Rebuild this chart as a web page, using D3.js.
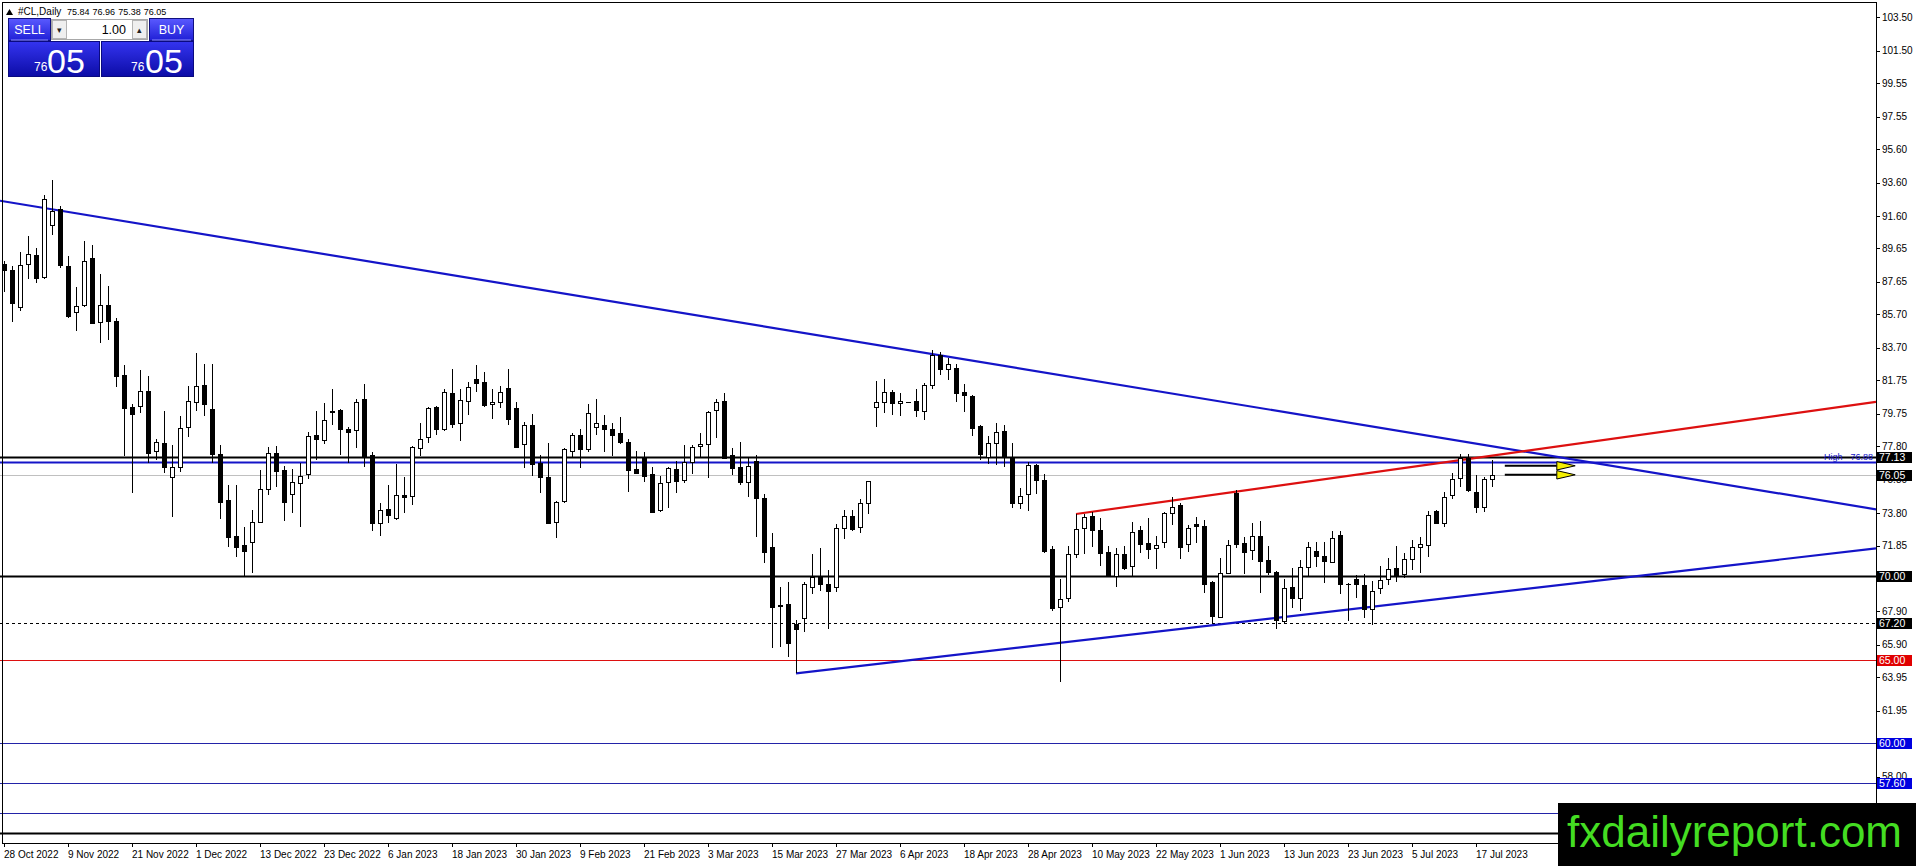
<!DOCTYPE html>
<html>
<head>
<meta charset="utf-8">
<script src="https://cdn.jsdelivr.net/npm/d3@7"></script>
<style>
  html, body { margin: 0; padding: 0; background: #fff; }
  svg { display: block; font-family: "Liberation Sans", Arial, sans-serif; }
</style>
</head>
<body>
<svg id="chart" width="1916" height="866"></svg>
<script>
// #CL daily bars, 28 Oct 2022 .. 19 Jul 2023 (one value per bar)
const opens = [
  88.72, 88.36, 86.12, 88.70, 89.24, 87.96, 91.04, 91.99, 88.58, 85.86,
  86.26, 89.06, 85.26, 86.24, 85.30, 82.07, 80.15, 80.23, 81.11, 77.50,
  77.98, 75.94, 76.54, 78.97, 80.43, 81.45, 80.03, 77.34, 74.58, 72.42,
  71.88, 72.06, 73.26, 75.26, 77.37, 76.38, 74.92, 75.58, 76.12, 78.47,
  78.15, 79.85, 79.97, 78.83, 78.75, 80.61, 77.27, 73.22, 74.02, 73.48,
  74.88, 74.80, 77.67, 78.33, 80.13, 78.85, 80.99, 79.17, 80.53, 81.81,
  81.63, 80.31, 80.47, 81.27, 80.07, 77.92, 79.05, 76.78, 75.96, 73.24,
  74.54, 77.50, 78.46, 77.66, 78.93, 79.05, 78.81, 78.60, 78.06, 76.46,
  77.10, 76.12, 73.96, 75.64, 76.42, 75.76, 76.84, 77.80, 77.92, 79.95,
  80.49, 77.30, 76.56, 75.64, 76.90, 74.68, 71.74, 68.20, 68.33, 67.15,
  67.49, 69.39, 70.02, 69.53, 69.39, 72.88, 73.60, 72.98, 74.38, 80.13,
  80.45, 81.03, 80.39, 80.45, 80.51, 79.89, 81.45, 83.27, 82.41, 82.47,
  81.05, 80.81, 79.01, 77.17, 77.97, 78.71, 77.07, 74.38, 74.92, 76.66,
  75.78, 71.64, 68.15, 68.69, 71.34, 72.88, 73.64, 72.78, 71.44, 70.04,
  71.34, 70.60, 72.78, 71.98, 71.68, 72.08, 73.78, 74.28, 71.92, 73.14,
  73.02, 69.66, 67.59, 70.22, 75.02, 71.98, 71.58, 72.44, 70.96, 70.28,
  67.33, 69.36, 68.69, 70.54, 71.50, 71.20, 70.88, 72.46, 69.52, 69.82,
  69.46, 68.03, 69.28, 69.82, 70.48, 70.12, 71.04, 71.78, 71.86, 73.90,
  73.18, 74.86, 75.88, 77.07, 75.04, 74.14, 75.84
];
const highs = [
  88.90, 88.60, 89.42, 90.38, 89.68, 92.85, 93.75, 92.19, 89.18, 87.34,
  90.10, 89.84, 88.12, 87.40, 85.46, 82.65, 80.33, 82.37, 82.01, 78.22,
  79.91, 77.88, 79.61, 81.41, 83.39, 82.73, 82.73, 77.88, 75.46, 75.46,
  72.98, 73.98, 76.38, 77.77, 77.81, 76.62, 76.42, 76.78, 78.63, 79.91,
  80.37, 81.21, 80.05, 78.95, 80.61, 81.53, 77.45, 74.42, 75.48, 76.74,
  75.98, 77.82, 79.19, 80.17, 80.20, 81.25, 82.41, 81.23, 81.65, 82.65,
  82.25, 81.21, 81.40, 82.40, 80.47, 79.23, 79.71, 77.28, 77.98, 74.50,
  77.70, 78.58, 78.82, 80.33, 80.61, 79.65, 79.17, 79.53, 78.26, 77.52,
  77.46, 76.54, 76.02, 76.58, 76.94, 77.86, 77.86, 78.58, 79.90, 80.63,
  80.97, 77.72, 78.08, 77.10, 77.27, 74.94, 72.58, 69.38, 69.65, 67.39,
  69.65, 71.32, 71.68, 70.38, 73.12, 73.98, 73.98, 74.62, 75.74, 81.71,
  81.81, 81.17, 81.01, 80.45, 81.21, 81.57, 83.57, 83.47, 83.07, 82.71,
  81.53, 80.87, 79.10, 78.41, 79.17, 79.07, 77.97, 75.28, 76.88, 76.72,
  76.14, 71.84, 69.85, 71.84, 73.74, 73.74, 73.84, 73.48, 71.84, 71.68,
  71.84, 73.26, 73.02, 73.48, 72.42, 73.85, 74.74, 74.38, 73.08, 73.58,
  73.38, 69.72, 71.08, 72.18, 75.18, 72.38, 73.18, 73.32, 71.82, 70.35,
  69.82, 70.48, 70.98, 72.08, 72.08, 72.08, 72.74, 72.74, 69.62, 70.08,
  70.12, 69.72, 70.62, 71.08, 71.82, 71.38, 72.18, 72.34, 73.92, 73.98,
  75.04, 76.18, 77.33, 77.33, 76.08, 75.94, 76.96
];
const lows = [
  87.06, 85.26, 85.92, 87.80, 87.60, 87.84, 90.46, 88.50, 85.50, 84.72,
  86.14, 85.14, 84.01, 84.17, 81.37, 77.19, 75.02, 79.81, 76.82, 76.98,
  76.22, 73.58, 76.28, 78.37, 79.93, 79.63, 76.78, 73.42, 71.74, 71.14,
  70.03, 70.22, 73.22, 74.88, 75.34, 73.34, 73.82, 72.98, 75.82, 76.98,
  77.93, 79.07, 77.27, 76.82, 77.72, 76.58, 72.74, 72.42, 73.22, 73.40,
  73.82, 74.28, 77.22, 77.97, 78.49, 78.73, 78.87, 78.13, 79.65, 81.07,
  80.17, 79.45, 80.10, 79.07, 77.68, 76.52, 76.04, 74.98, 73.12, 72.28,
  74.38, 77.18, 76.52, 77.48, 78.46, 77.48, 77.22, 77.92, 75.08, 76.12,
  75.68, 73.80, 73.84, 74.12, 74.98, 75.58, 76.12, 77.18, 75.88, 78.32,
  77.08, 76.08, 75.46, 74.78, 72.34, 70.78, 65.69, 65.75, 65.19, 64.19,
  66.69, 68.93, 69.15, 66.85, 69.09, 72.22, 72.74, 72.62, 73.74, 78.97,
  79.77, 79.67, 79.63, 80.45, 79.57, 79.37, 81.25, 82.07, 81.77, 80.47,
  79.87, 78.41, 76.97, 76.71, 76.68, 76.58, 74.08, 74.02, 73.94, 74.92,
  71.42, 67.95, 63.69, 68.49, 71.08, 71.34, 71.78, 70.64, 69.94, 69.39,
  70.38, 70.04, 71.42, 71.02, 70.44, 71.72, 73.08, 71.02, 71.48, 71.98,
  69.03, 67.19, 67.55, 70.12, 71.72, 70.14, 70.98, 69.03, 70.08, 66.83,
  67.15, 68.09, 67.95, 69.94, 70.54, 69.58, 70.82, 68.95, 67.35, 68.73,
  67.49, 67.09, 68.95, 69.48, 69.68, 69.88, 70.38, 70.22, 71.18, 73.14,
  72.98, 74.62, 75.34, 75.08, 73.82, 73.88, 75.38
];
const closes = [
  88.36, 86.40, 88.64, 89.34, 87.90, 92.59, 91.87, 88.66, 85.62, 86.18,
  88.90, 85.18, 86.24, 85.32, 82.03, 80.11, 79.75, 81.11, 77.42, 78.04,
  76.54, 76.54, 78.89, 80.49, 81.41, 80.31, 77.34, 74.44, 72.38, 71.78,
  71.54, 73.28, 75.22, 77.37, 76.34, 74.48, 75.64, 76.02, 78.39, 78.21,
  79.35, 79.91, 78.85, 78.67, 80.43, 77.17, 73.22, 73.96, 73.70, 74.86,
  74.74, 77.74, 78.25, 80.07, 78.85, 81.03, 79.15, 80.55, 81.33, 81.61,
  80.25, 80.45, 81.07, 79.41, 77.78, 79.05, 76.72, 75.98, 73.22, 74.44,
  77.62, 78.46, 77.66, 79.77, 79.17, 78.81, 78.50, 78.04, 76.36, 76.22,
  76.04, 73.84, 75.62, 76.48, 75.74, 76.84, 77.74, 77.92, 79.87, 80.47,
  77.12, 76.48, 75.64, 76.64, 74.72, 71.48, 68.19, 68.26, 65.99, 66.83,
  69.53, 69.98, 69.53, 69.15, 72.88, 73.60, 72.82, 74.38, 75.70, 80.43,
  81.03, 80.37, 80.49, 80.45, 79.97, 81.45, 83.27, 82.41, 82.71, 80.97,
  80.85, 78.91, 77.31, 77.97, 78.67, 77.17, 74.38, 74.80, 76.66, 75.78,
  71.54, 68.13, 68.63, 71.32, 72.82, 73.54, 72.78, 71.42, 70.04, 71.32,
  70.52, 72.64, 71.92, 71.66, 71.86, 73.78, 74.18, 71.78, 72.90, 73.02,
  69.53, 67.61, 70.18, 71.86, 71.92, 71.44, 72.44, 70.94, 70.28, 67.39,
  69.28, 68.69, 70.54, 71.78, 71.24, 70.94, 72.32, 69.52, 69.56, 69.52,
  68.05, 69.15, 69.78, 70.42, 70.08, 71.04, 71.78, 71.92, 73.66, 73.22,
  74.78, 75.86, 77.07, 75.18, 74.14, 75.84, 76.05
];

// time scale labels, one every 8 bars starting with bar 0
const dateLabels = [
  '28 Oct 2022', '9 Nov 2022', '21 Nov 2022', '1 Dec 2022', '13 Dec 2022',
  '23 Dec 2022', '6 Jan 2023', '18 Jan 2023', '30 Jan 2023', '9 Feb 2023',
  '21 Feb 2023', '3 Mar 2023', '15 Mar 2023', '27 Mar 2023', '6 Apr 2023',
  '18 Apr 2023', '28 Apr 2023', '10 May 2023', '22 May 2023', '1 Jun 2023',
  '13 Jun 2023', '23 Jun 2023', '5 Jul 2023', '17 Jul 2023'
];
const labelEvery = 8;

// price scale labels (those fully hidden under level tags left out)
const priceTicks = [
  103.50, 101.50, 99.55, 97.55, 95.60, 93.60, 91.60, 89.65, 87.65, 85.70,
  83.70, 81.75, 79.75, 77.80, 75.80, 73.80, 71.85, 67.90, 65.90,
  63.95, 61.95, 58.00
];

// horizontal levels drawn on the chart
const levelPrices = [77.13, 76.88, 76.05, 70.00, 67.20, 65.00, 60.00, 57.60, 55.80, 54.60];
const levelTags   = ['77.13', null, '76.05', '70.00', '67.20', '65.00', '60.00', '57.60', null, null];

// trend lines as [bar, price] pairs
const downTrend    = [[-0.5, 92.51], [234, 74.02]];
const channelTop   = [[134, 73.74], [234, 80.46]];
const channelFloor = [[99, 64.19], [234, 71.68]];

// the two arrow objects right of the last bar
const arrowPrices = [76.63, 76.09];
const arrowBars = [187.6, 194.1, 196.4];

const headerSymbol = '#CL,Daily';
const headerOHLC = ['75.84', '76.96', '75.38', '76.05'];
const quote = { big: '05', small: '76', lot: '1.00' };

// ---------------------------------------------------------------
const width = 1916, height = 866;
const plotR = 1876, plotB = 843;
const svg = d3.select('#chart');

const x = d3.scaleLinear().domain([-0.5, 234]).range([0, plotR]);
const y = d3.scaleLinear().domain([54.03, 104.537]).range([plotB, 0]);

const BLUE = '#1414c8', NAVY = '#2323a8', RED = '#dd1010';
const levelStyle = [
  { c: '#000', w: 2 }, { c: BLUE, w: 2 }, { c: '#c0c0c0', w: 1 }, { c: '#000', w: 2 },
  { c: '#000', w: 1, dash: '3,3' }, { c: RED, w: 1 }, { c: NAVY, w: 1 }, { c: NAVY, w: 1 },
  { c: NAVY, w: 1 }, { c: '#000', w: 2 }
];
const tagFill = ['#000', null, '#000', '#000', '#000', '#e00000', '#0000e0', '#0000e0', null, null];

svg.append('rect').attr('width', width).attr('height', height).attr('fill', '#fff');

const defs = svg.append('defs');
defs.append('clipPath').attr('id', 'plot')
  .append('rect').attr('x', 0).attr('y', 0).attr('width', plotR).attr('height', plotB);

const plot = svg.append('g').attr('clip-path', 'url(#plot)');

// levels
plot.selectAll('.level')
  .data(levelPrices)
  .enter()
  .append('line')
  .attr('x1', 0).attr('x2', plotR)
  .attr('y1', d => Math.round(y(d)) + 0.5)
  .attr('y2', d => Math.round(y(d)) + 0.5)
  .attr('stroke', (d, i) => levelStyle[i].c)
  .attr('stroke-width', (d, i) => levelStyle[i].w)
  .attr('stroke-dasharray', (d, i) => levelStyle[i].dash || null);

// trend lines
const trend = d3.line().x(d => x(d[0])).y(d => y(d[1]));
[[downTrend, BLUE], [channelFloor, BLUE], [channelTop, RED]].forEach(([pts, col]) => {
  plot.append('path').attr('d', trend(pts))
    .attr('fill', 'none').attr('stroke', col).attr('stroke-width', 2.2);
});

// "High" tag on the day-high line
const hiY = Math.round(y(levelPrices[1]));
plot.append('text').attr('x', 1824).attr('y', hiY - 2)
  .attr('font-size', 9).attr('fill', BLUE).text('High');
plot.append('text').attr('x', 1873).attr('y', hiY - 2).attr('text-anchor', 'end')
  .attr('font-size', 9).attr('fill', BLUE).text(levelPrices[1].toFixed(2));

// candles
const bars = d3.range(opens.length);
const candles = plot.append('g').attr('shape-rendering', 'crispEdges');
candles.selectAll('.wick')
  .data(bars)
  .enter()
  .append('line')
  .attr('x1', i => Math.round(x(i)) + 0.5)
  .attr('x2', i => Math.round(x(i)) + 0.5)
  .attr('y1', i => y(highs[i]))
  .attr('y2', i => y(lows[i]))
  .attr('stroke', '#000');
candles.selectAll('.body')
  .data(bars)
  .enter()
  .append('rect')
  .attr('x', i => Math.round(x(i)) - 1.5)
  .attr('width', 4)
  .attr('y', i => Math.round(y(Math.max(opens[i], closes[i]))) + 0.5)
  .attr('height', i => Math.max(0.01, Math.round(y(Math.min(opens[i], closes[i]))) - Math.round(y(Math.max(opens[i], closes[i])))))
  .attr('fill', i => closes[i] >= opens[i] ? '#fff' : '#000')
  .attr('stroke', '#000');

// arrows
arrowPrices.forEach(p => {
  const yy = y(p);
  plot.append('line')
    .attr('x1', x(arrowBars[0])).attr('x2', x(arrowBars[1]))
    .attr('y1', yy).attr('y2', yy)
    .attr('stroke', '#000').attr('stroke-width', 2);
  const x1 = x(arrowBars[1]), x2 = x(arrowBars[2]);
  plot.append('path')
    .attr('d', `M${x1},${yy - 4.2}L${x2},${yy}L${x1},${yy + 4.2}Z`)
    .attr('fill', '#f5f000').attr('stroke', '#000').attr('stroke-width', 1);
});

// frame
svg.append('rect').attr('x', 2.5).attr('y', 2.5)
  .attr('width', plotR - 2.5).attr('height', plotB - 2.5)
  .attr('fill', 'none').attr('stroke', '#000').attr('shape-rendering', 'crispEdges');

// price scale
const axis = svg.append('g').attr('font-size', 10).attr('shape-rendering', 'crispEdges');
axis.selectAll('.tick')
  .data(priceTicks)
  .enter()
  .append('line')
  .attr('x1', plotR).attr('x2', plotR + 4)
  .attr('y1', d => Math.round(y(d)) + 0.5).attr('y2', d => Math.round(y(d)) + 0.5)
  .attr('stroke', '#000');
axis.selectAll('.tlabel')
  .data(priceTicks)
  .enter()
  .append('text')
  .attr('x', plotR + 6).attr('y', d => y(d) + 3.6)
  .attr('fill', '#000')
  .text(d => d.toFixed(2));

levelPrices.forEach((p, i) => {
  if (!levelTags[i]) return;
  const yy = Math.round(y(p));
  axis.append('rect').attr('x', plotR + 1).attr('y', yy - 5).attr('width', 35).attr('height', 11)
    .attr('fill', tagFill[i]);
  axis.append('text').attr('x', plotR + 3).attr('y', yy + 4)
    .attr('fill', '#fff').attr('font-size', 10.5).text(levelTags[i]);
});

// time scale
const timeAxis = svg.append('g').attr('font-size', 10);
timeAxis.selectAll('.dtick')
  .data(dateLabels)
  .enter()
  .append('line')
  .attr('x1', (d, k) => Math.round(x(k * labelEvery)) + 0.5)
  .attr('x2', (d, k) => Math.round(x(k * labelEvery)) + 0.5)
  .attr('y1', plotB).attr('y2', plotB + 4)
  .attr('stroke', '#000');
timeAxis.selectAll('.dlabel')
  .data(dateLabels)
  .enter()
  .append('text')
  .attr('x', (d, k) => Math.max(3, x(k * labelEvery)))
  .attr('y', plotB + 15)
  .attr('fill', '#000')
  .text(d => d);

// header
svg.append('path').attr('d', 'M6,15L9.5,9L13,15Z').attr('fill', '#000');
svg.append('text').attr('x', 18).attr('y', 15).attr('font-size', 10).attr('fill', '#000')
  .text(headerSymbol);
svg.selectAll('.ohlc')
  .data(headerOHLC)
  .enter()
  .append('text')
  .attr('x', (d, k) => 67 + k * 25.6)
  .attr('y', 15)
  .attr('font-size', 9)
  .attr('fill', '#000')
  .text(d => d);

// one click trading panel
const g1 = defs.append('linearGradient').attr('id', 'btn').attr('x1', 0).attr('x2', 0).attr('y1', 0).attr('y2', 1);
g1.append('stop').attr('offset', 0).attr('stop-color', '#5a5aff');
g1.append('stop').attr('offset', 1).attr('stop-color', '#1f1fd6');
const g2 = defs.append('linearGradient').attr('id', 'px').attr('x1', 0).attr('x2', 0).attr('y1', 0).attr('y2', 1);
g2.append('stop').attr('offset', 0).attr('stop-color', '#3434f0');
g2.append('stop').attr('offset', 1).attr('stop-color', '#0c0ca6');

const panel = svg.append('g');
[[8, 42, 'SELL'], [149, 44, 'BUY']].forEach(([bx, bw, t]) => {
  panel.append('rect').attr('x', bx + 0.5).attr('y', 18.5).attr('width', bw).attr('height', 22)
    .attr('fill', 'url(#btn)').attr('stroke', '#101080');
  panel.append('line').attr('x1', bx + 3).attr('x2', bx + bw - 2).attr('y1', 40).attr('y2', 40)
    .attr('stroke', '#8c8cff');
  panel.append('text').attr('x', bx + bw / 2 + 0.5).attr('y', 34).attr('text-anchor', 'middle')
    .attr('font-size', 12.5).attr('fill', '#fff').text(t);
});
panel.append('rect').attr('x', 51.5).attr('y', 19.5).attr('width', 96).attr('height', 20)
  .attr('fill', '#fff').attr('stroke', '#a8a8a8');
[[52, '\u25BE'], [132, '\u25B4']].forEach(([bx, t]) => {
  panel.append('rect').attr('x', bx + 0.5).attr('y', 20.5).attr('width', 14).attr('height', 18)
    .attr('fill', '#efefef').attr('stroke', '#b4b4b4');
  panel.append('text').attr('x', bx + 7.5).attr('y', 33).attr('text-anchor', 'middle')
    .attr('font-size', 9).attr('fill', '#222').text(t);
});
panel.append('text').attr('x', 126).attr('y', 34).attr('text-anchor', 'end')
  .attr('font-size', 12.5).attr('fill', '#000').text(quote.lot);

[[8, 91, 34, 47], [101, 92, 131, 145]].forEach(([bx, bw, sx, lx]) => {
  panel.append('rect').attr('x', bx + 0.5).attr('y', 41.5).attr('width', bw).attr('height', 35)
    .attr('fill', 'url(#px)').attr('stroke', '#0a0a80');
  panel.append('text').attr('x', sx).attr('y', 71).attr('font-size', 12).attr('fill', '#fff')
    .text(quote.small);
  panel.append('text').attr('x', lx).attr('y', 73).attr('font-size', 34).attr('fill', '#fff')
    .text(quote.big);
});

// watermark
svg.append('rect').attr('x', 1558).attr('y', 803).attr('width', width - 1558).attr('height', height - 803)
  .attr('fill', '#000');
svg.append('text').attr('x', 1567).attr('y', 847).attr('font-size', 44).attr('fill', '#44dd22')
  .text('fxdailyreport.com');
</script>
</body>
</html>
